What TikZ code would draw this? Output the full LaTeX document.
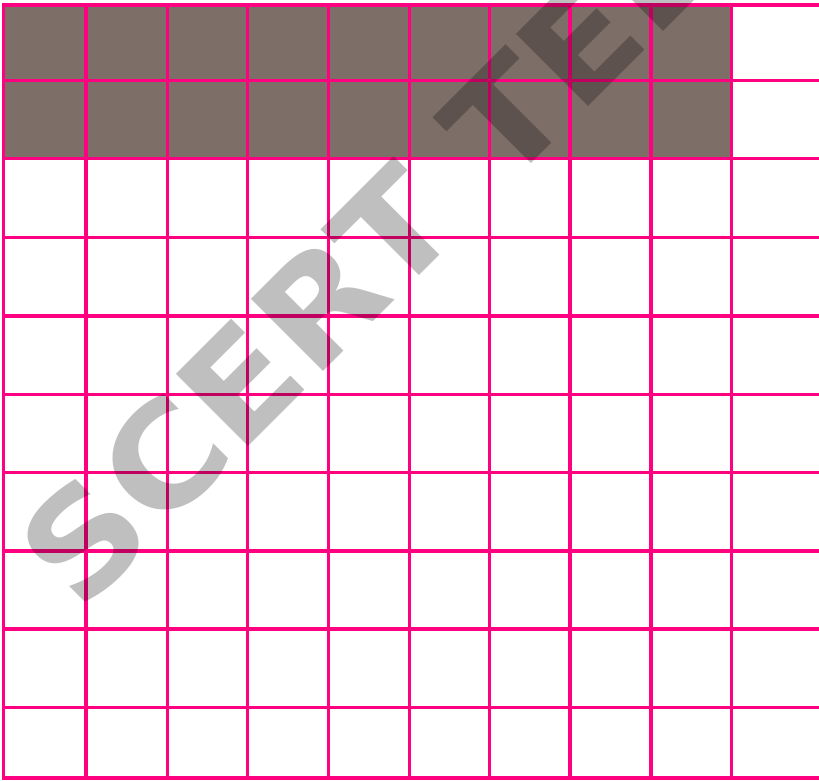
\documentclass[tikz,border=0pt]{standalone}
\usepackage{graphicx}
\usepackage{fontspec}
\usepackage{tikz}
\newfontfamily\stampfont{DejaVu Sans}
\definecolor{gridpink}{HTML}{FF0080}
\definecolor{shadefill}{HTML}{7D6E67}
\tikzset{
gridline/.style={
draw=gridpink,
line width=3.2pt,
line cap=rect
},
shaded/.style={
fill=shadefill
},
stamp/.style={
text=black,
text opacity=0.25,
inner sep=0pt,
font=\stampfont\bfseries\fontsize{140}{140}\selectfont
}
}

\begin{document}
\begin{tikzpicture}[x=1pt,y=1pt]
\useasboundingbox (0,0) rectangle (819,781);
\clip (0,0) rectangle (819,781);

% shaded part: 2 rows of 9
\fill[shaded] (3.3,622.5) rectangle (731.7,776);

\foreach \y in {776,700.3,622.5,543.7,465,386.7,308.7,230,152,73.3,3} { \draw[gridline] (3.3,\y) -- (819,\y); }
\foreach \x in {3.3,86,167.3,247.3,328.7,409.3,489.3,570,651,731.7} { \draw[gridline] (\x,3) -- (\x,776); }

\node[stamp, anchor=base west, rotate=45] (stamp) at (80.5,166.5) {\scalebox{1.1}[1]{SCERT TELANGANA}};

\end{tikzpicture}
\end{document}
